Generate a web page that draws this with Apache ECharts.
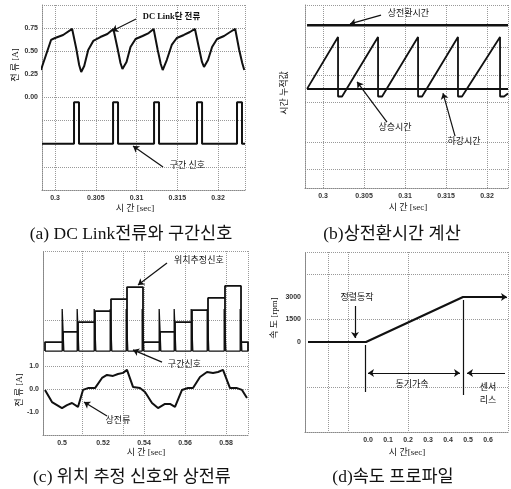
<!DOCTYPE html>
<html lang="ko">
<head>
    <meta charset="UTF-8">
    <title>DC Link 전류 / 상전환시간 / 위치추정 / 속도 프로파일</title>
    <script src="https://cdn.jsdelivr.net/npm/echarts@6/dist/echarts.min.js"></script>
    <style>
        html, body { margin: 0; padding: 0; background: #fff; }
        #charts { width: 511px; height: 489px; }
    </style>
</head>
<body>
<div id="charts"></div>
<script>
    // (a) DC Link단 전류 + 구간 신호
    var timeA = [0.29827, 0.29889, 0.29951, 0.3, 0.30099, 0.3021, 0.30259, 0.30296, 0.30321, 0.30358, 0.30407, 0.30469,
        0.30556, 0.30642, 0.30716, 0.30766, 0.30803, 0.30827, 0.30877, 0.30926, 0.30988, 0.31074, 0.31149, 0.3121,
        0.3126, 0.31297, 0.31321, 0.31371, 0.31432, 0.31494, 0.31581, 0.31655, 0.31717, 0.31766, 0.31803, 0.31828,
        0.31877, 0.31927, 0.31988, 0.32074, 0.32149, 0.32211, 0.3226, 0.32297, 0.32322];
    var currentA = [0.297, 0.459, 0.622, 0.643, 0.676, 0.741, 0.535, 0.351, 0.276, 0.341, 0.514, 0.611,
        0.654, 0.686, 0.741, 0.535, 0.373, 0.308, 0.384, 0.546, 0.632, 0.665, 0.697, 0.741,
        0.514, 0.362, 0.297, 0.405, 0.568, 0.643, 0.676, 0.708, 0.741, 0.535, 0.384, 0.330,
        0.405, 0.546, 0.632, 0.665, 0.708, 0.741, 0.514, 0.373, 0.297];
    var pulseOnA = [0.30233, 0.30712, 0.31215, 0.31742, 0.32233];
    var pulseOffA = [0.30294, 0.30773, 0.31276, 0.31804, 0.32294];
    var sigLowA = -0.5, sigHighA = -0.05;
    var xLabelsA = [0.3, 0.305, 0.31, 0.315, 0.32];
    var yLabelsA = [0, 0.25, 0.5, 0.75];

    // (b) 상전환시간 계산
    var timeB = [0.29805, 0.30183, 0.30183, 0.30232, 0.30671, 0.30671, 0.3072, 0.31159, 0.31159, 0.31208,
        0.31646, 0.31646, 0.31695, 0.32159, 0.32159, 0.32208, 0.32256];
    var riseB = [3.25, 4.95, 3.0, 3.0, 4.95, 3.0, 3.0, 4.95, 3.0, 3.0, 4.95, 3.0, 3.0, 4.95, 3.0, 3.0, 3.1];
    var lineTimeB = [0.29805, 0.32256];
    var fallB = [3.25, 3.25];
    var phaseB = [5.34, 5.34];
    var xLabelsB = [0.3, 0.305, 0.31, 0.315, 0.32];

    // (c) 위치 추정 신호 + 상전류
    var edgesC = [0.49171, 0.50049, 0.5078, 0.5161, 0.5239, 0.53171, 0.53951, 0.5478, 0.55512, 0.56341,
        0.57122, 0.57951, 0.58732, 0.59073];
    var levelsC = [2.04, 2.48, 2.91, 3.39, 3.91, 4.43, 2.04, 2.48, 2.91, 3.43, 3.96, 4.48, 2.04];
    var baseC = 1.65, pulseTopC = 3.48;
    var timeC = [0.4917, 0.49512, 0.5, 0.50244, 0.50488, 0.5078, 0.51024, 0.51268, 0.5161, 0.51951, 0.52195,
        0.52488, 0.52732, 0.52976, 0.53171, 0.53463, 0.53805, 0.54049, 0.5439, 0.54683, 0.55024, 0.55268,
        0.55512, 0.55854, 0.56146, 0.5639, 0.56732, 0.57073, 0.57366, 0.5761, 0.57854, 0.58195, 0.58537,
        0.5878, 0.59024];
    var currentC = [-0.04, -0.57, -0.83, -0.70, -0.61, -0.78, -0.04, 0.04, 0.04, 0.48, 0.61, 0.57,
        0.65, 0.70, 0.83, 0.09, 0.04, -0.13, -0.61, -0.83, -0.65, -0.65, -0.78, -0.04,
        0.04, 0.04, 0.52, 0.74, 0.70, 0.74, 0.83, 0.04, 0.04, -0.04, -0.39];
    var xLabelsC = [0.5, 0.52, 0.54, 0.56, 0.58];
    var yLabelsC = [-1, 0, 1];

    // (d) 속도 프로파일
    var timeD = [-0.3, -0.01, 0.475, 0.69];
    var speedD = [0, 0, 3000, 3000];
    var xLabelsD = [0, 0.1, 0.2, 0.3, 0.4, 0.5, 0.6];
    var yLabelsD = [0, 1500, 3000];

    var chart = echarts.init(document.getElementById('charts'));

    var tickFont = {fontSize: 7, fontWeight: 'bold', color: '#333', fontFamily: 'Liberation Sans'};
    var kr = "'Liberation Serif','Noto Sans CJK KR'";
    var gridLine = {show: true, lineStyle: {color: '#999', type: 'dotted', width: 1}};
    var ink = '#111';

    function zip(xs, ys) {
        return xs.map(function (x, i) { return [x, ys[i]]; });
    }

    function pulseTrain(start, end, on, off, low, high) {
        var d = [[start, low]];
        for (var i = 0; i < on.length; i++) {
            d.push([on[i], low], [on[i], high], [off[i], high], [off[i], low]);
        }
        d.push([end, low]);
        return d;
    }

    function boxes(edges, levels, base) {
        var d = [];
        for (var i = 0; i < levels.length; i++) {
            d.push([edges[i], base], [edges[i], levels[i]], [edges[i + 1], levels[i]], [edges[i + 1], base]);
        }
        return d;
    }

    function spikes(edges, base, top, w) {
        var d = [[edges[0], base]];
        for (var i = 1; i < edges.length - 1; i++) {
            d.push([edges[i] - w, base], [edges[i] - w, top], [edges[i] + w, top], [edges[i] + w, base]);
        }
        d.push([edges[edges.length - 1], base]);
        return d;
    }

    function xAxisOf(idx, min, max, labels, lines, fmt) {
        return {
            type: 'value', gridIndex: idx, min: min, max: max,
            axisLine: {show: true, onZero: false, lineStyle: {color: '#888', type: 'dotted'}},
            axisTick: {show: false, customValues: lines},
            axisLabel: Object.assign({customValues: labels, margin: 5, formatter: fmt}, tickFont),
            splitLine: gridLine
        };
    }

    function yAxisOf(idx, min, max, labels, lines, fmt) {
        return {
            type: 'value', gridIndex: idx, min: min, max: max,
            axisLine: {show: true, onZero: false, lineStyle: {color: '#888', type: 'dotted'}},
            axisTick: {show: false, customValues: lines},
            axisLabel: Object.assign({show: labels.length > 0, customValues: labels.length ? labels : [min], margin: 4, formatter: fmt}, tickFont),
            splitLine: gridLine
        };
    }

    function note(coord, text, extra) {
        return {
            coord: coord, symbol: 'circle', symbolSize: 0,
            itemStyle: {color: 'transparent'},
            label: Object.assign({show: true, position: 'inside', formatter: text, color: ink,
                fontSize: 9, fontFamily: kr}, extra || {})
        };
    }

    function arrow(from, to, both) {
        return [{coord: from, symbol: both ? 'arrow' : 'none'}, {coord: to, symbol: 'arrow'}];
    }

    function bar(from, to) {
        return [{coord: from, symbol: 'none'}, {coord: to, symbol: 'none'}];
    }

    var arrowStyle = {silent: true, symbolSize: 6, label: {show: false}, lineStyle: {color: ink, width: 1.2, type: 'solid'}};
    var noteStyle = {silent: true, itemStyle: {color: 'transparent'}};

    function line(xi, data, width, extra) {
        return Object.assign({
            type: 'line', xAxisIndex: xi, yAxisIndex: xi, data: data, symbol: 'none',
            lineStyle: {color: ink, width: width}, silent: true
        }, extra || {});
    }

    function text(x, y, str, size, rotate) {
        return {
            type: 'text', x: x, y: y, rotation: rotate ? Math.PI / 2 : 0,
            style: {text: str, fontSize: size, fontFamily: kr, fill: ink, align: 'center', verticalAlign: 'middle'}
        };
    }

    var f2 = function (v) { return v.toFixed(2); };
    var f1 = function (v) { return v.toFixed(1); };
    var fx = function (v) { return String(+v.toFixed(3)); };
    var f0 = function (v) { return String(v); };

    var option = {
        animation: false,
        backgroundColor: '#fff',
        grid: [
            {left: 42, top: 5, width: 203, height: 185},
            {left: 305, top: 5, width: 203, height: 183},
            {left: 43, top: 251, width: 205, height: 184},
            {left: 305, top: 252, width: 203, height: 180}
        ],
        xAxis: [
            xAxisOf(0, 0.2984, 0.32331, xLabelsA, [0.2984, 0.3, 0.305, 0.31, 0.315, 0.32, 0.32331], fx),
            xAxisOf(1, 0.2978, 0.32256, xLabelsB, [0.2978, 0.3, 0.305, 0.31, 0.315, 0.32, 0.32256], fx),
            xAxisOf(2, 0.49073, 0.59073, xLabelsC, [0.49073, 0.51, 0.53, 0.54, 0.56, 0.58, 0.59073], fx),
            xAxisOf(3, -0.315, 0.70, xLabelsD, [-0.315, -0.2, -0.1, 0.2, 0.7], f1)
        ],
        yAxis: [
            yAxisOf(0, -1, 1, yLabelsA, [-1, -0.75, -0.25, 0, 0.5, 0.75, 1], f2),
            yAxisOf(1, 0, 6, [], [0, 0.6, 1.5, 2.8, 3.7, 4.6, 6], f2),
            yAxisOf(2, -2, 6, yLabelsC, [-2, 0, 1, 3, 6], f1),
            yAxisOf(3, -6000, 6000, yLabelsD, [-6000, -3000, 1500, 4500, 6000], f0)
        ],
        series: [
            // (a)
            line(0, zip(timeA, currentA), 2, {
                markLine: Object.assign({data: [
                    arrow([0.30994, 0.849], [0.3070, 0.719]),
                    arrow([0.31325, -0.751], [0.30957, -0.524])
                ]}, arrowStyle),
                markPoint: Object.assign({data: [
                    note([0.31015, 0.87], 'DC Link단 전류', {position: 'right', fontWeight: 'bold', fontSize: 8.5}),
                    note([0.31345, -0.74], '구간 신호', {position: 'right'})
                ]}, noteStyle)
            }),
            line(0, pulseTrain(0.2984, 0.32331, pulseOnA, pulseOffA, sigLowA, sigHighA), 2),
            // (b)
            line(1, zip(lineTimeB, phaseB), 2.5, {
                markLine: Object.assign({data: [
                    arrow([0.30707, 5.67], [0.30329, 5.38]),
                    arrow([0.3078, 2.16], [0.30415, 3.48]),
                    arrow([0.3161, 1.70], [0.31463, 3.11])
                ]}, arrowStyle),
                markPoint: Object.assign({data: [
                    note([0.30727, 5.72], '상전환시간', {position: 'right'}),
                    note([0.30878, 1.97], '상승시간'),
                    note([0.3172, 1.51], '하강시간')
                ]}, noteStyle)
            }),
            line(1, zip(timeB, riseB), 1.8),
            line(1, zip(lineTimeB, fallB), 2),
            // (c)
            line(2, spikes(edgesC, baseC, pulseTopC, 0.0004), 1.3),
            line(2, boxes(edgesC, levelsC, baseC), 1.8),
            line(2, zip(timeC, currentC), 2, {
                markLine: Object.assign({data: [
                    arrow([0.55122, 5.48], [0.53707, 4.52]),
                    arrow([0.54878, 1.17], [0.53463, 1.70]),
                    arrow([0.52195, -1.17], [0.51073, -0.57])
                ]}, arrowStyle),
                markPoint: Object.assign({data: [
                    note([0.5522, 5.57], '위치추정신호', {position: 'right'}),
                    note([0.5492, 1.04], '구간신호', {position: 'right'}),
                    note([0.52732, -1.39], '상전류')
                ]}, noteStyle)
            }),
            // (d)
            line(3, zip(timeD, speedD), 2.2, {
                markLine: Object.assign({data: [
                    arrow([-0.065, 2400], [-0.065, 267]),
                    arrow([0.0, -2067], [0.46, -2067], true),
                    arrow([0.685, -2067], [0.495, -2067]),
                    arrow([0.66, 3000], [0.695, 3000]),
                    bar([-0.015, -200], [-0.015, -3333]),
                    bar([0.475, 2800], [0.475, -3533])
                ]}, arrowStyle),
                markPoint: Object.assign({data: [
                    note([-0.055, 2933], '정렬동작'),
                    note([0.22, -2867], '동기가속'),
                    note([0.6, -3500], '센서\n리스', {lineHeight: 13})
                ]}, noteStyle)
            })
        ],
        graphic: [
            text(16, 65, '전 류 [A]', 9, true),
            text(135, 209, '시 간 [sec]', 9),
            text(131, 234, '(a) DC Link전류와 구간신호', 17.5),

            text(285, 93, '시간 누적값', 9, true),
            text(408, 208, '시 간 [sec]', 9),
            text(392, 234, '(b)상전환시간 계산', 17.5),

            text(20, 390, '전 류 [A]', 9, true),
            text(146, 453, '시 간 [sec]', 9),
            text(132, 477, '(c) 위치 추정 신호와 상전류', 17.5),

            text(275, 318, '속 도 [rpm]', 9, true),
            text(407, 453, '시 간[sec]', 9),
            text(393, 477, '(d)속도 프로파일', 17.5)
        ]
    };

    chart.setOption(option);
</script>
</body>
</html>
